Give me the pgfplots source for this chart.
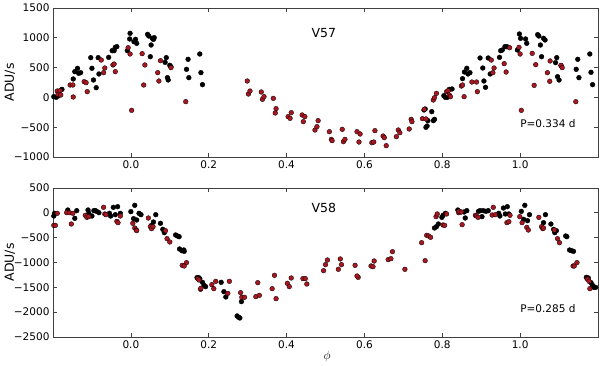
\documentclass[border=0pt]{standalone}
\usepackage{fontspec}
\setmainfont{DejaVu Sans}
\usepackage{pgfplots}
\pgfplotsset{compat=1.18}
\definecolor{dotred}{RGB}{168,22,32}

\pgfplotsset{
  lcpanel/.style={
    scale only axis, width=545pt, height=149pt,
    xmin=-0.2, xmax=1.2,
    xtick={0,0.2,0.4,0.6,0.8,1.0},
    xticklabel style={/pgf/number format/fixed,/pgf/number format/fixed zerofill,/pgf/number format/precision=1},
    /pgf/number format/assume math mode=true,
    tick label style={font=\fontsize{10.5}{12}\selectfont},
    label style={font=\fontsize{12.5}{14}\selectfont},
    tick align=inside, xtick pos=both, ytick pos=both,
    xticklabel pos=lower, yticklabel pos=left,
    major tick length=4pt,
    axis line style={black!75, line width=0.8pt},
    tick style={black!75, line width=0.7pt},
    ylabel={ADU/s},
    ylabel style={at={(axis description cs:-0.079,0.5)}, anchor=center},
    clip=false,
  },
  blk/.style={only marks, mark=*, mark size=2.4pt, mark options={draw=black, fill=black}},
  red/.style={only marks, mark=*, mark size=2.4pt, mark options={draw=black, fill=dotred, line width=0.3pt}},
}

\begin{document}
\begin{tikzpicture}
\useasboundingbox (-53pt,-29pt) rectangle (547pt,337pt);

% top panel: V57
\begin{axis}[lcpanel, at={(0pt,180pt)}, anchor=south west,
    ymin=-1000, ymax=1500,
    ytick={-1000,-500,0,500,1000,1500},
    yticklabels={−1000,−500,0,500,1000,1500}]
\addplot[blk] coordinates {
(-0.198,12) (-0.192,1) (-0.187,23) (-0.177,135) (-0.148,309) (-0.144,432) (-0.137,488)
(-0.134,404) (-0.129,415) (-0.103,667) (-0.100,488) (-0.096,292) (-0.089,163) (-0.084,667)
(-0.082,393) (-0.057,672) (-0.048,784) (-0.043,784) (-0.040,840) (-0.036,851) (-0.009,784)
(-0.003,980) (-0.002,1075) (0.008,935) (0.012,974) (0.015,907) (0.043,1058) (0.046,1030)
(0.052,879) (0.055,991) (0.058,974) (0.060,1002) (0.050,683) (0.088,588) (0.091,667)
(0.094,331) (0.096,292) (0.100,538) (0.103,516) (0.143,471) (0.147,639) (0.149,331)
(0.177,728) (0.180,415) (0.184,214)
(0.758,-502) (0.761,-480) (0.763,-390) (0.753,-211) (0.756,-195) (0.773,-239) (0.777,-390)
(0.780,-368) (0.804,29) (0.808,1) (0.813,1) (0.818,135) (0.825,141) (0.852,314) (0.857,426)
(0.863,488) (0.866,393) (0.871,415) (0.897,661) (0.904,493) (0.907,275) (0.911,169)
(0.918,661) (0.923,393) (0.947,672) (0.950,784) (0.954,795) (0.961,851) (0.966,851)
(0.993,795) (0.998,1064) (1.001,991) (1.014,980) (1.017,907) (1.045,1053) (1.048,1030)
(1.052,879) (1.060,991) (1.064,963) (1.055,683) (1.091,583) (1.096,348) (1.100,292)
(1.094,667) (1.105,532) (1.144,471) (1.148,639) (1.151,331) (1.179,728) (1.182,421) (1.186,214)
};
\addplot[red] coordinates {
(-0.189,107) (-0.187,51) (-0.182,113) (-0.180,40) (-0.156,208) (-0.149,208) (-0.148,7)
(-0.120,264) (-0.115,247) (-0.112,96) (-0.076,627) (-0.070,415) (-0.067,493) (-0.046,544)
(-0.043,560) (-0.040,432) (-0.007,834) (-0.002,728) (0.002,-217) (0.029,734) (0.033,208)
(0.036,544) (0.069,415) (0.072,275) (0.076,616) (0.103,499) (0.141,-72)
(0.299,275) (0.302,57) (0.306,107) (0.335,91) (0.338,-32) (0.342,12) (0.366,-16)
(0.373,-189) (0.371,-262) (0.404,-323) (0.409,-351) (0.412,-256)
(0.440,-295) (0.447,-323) (0.443,-407) (0.473,-547) (0.478,-491) (0.481,-390) (0.510,-575)
(0.515,-704) (0.517,-726) (0.543,-536) (0.546,-743) (0.550,-704) (0.581,-575) (0.586,-749)
(0.589,-614) (0.619,-760) (0.624,-749) (0.627,-558) (0.648,-648) (0.651,-676) (0.656,-810)
(0.682,-659) (0.687,-547) (0.691,-592) (0.715,-530) (0.720,-368) (0.722,-407) (0.749,-357)
(0.754,-200) (0.758,-362) (0.777,-44) (0.780,-5) (0.785,68) (0.811,96) (0.815,113)
(0.818,40) (0.821,12) (0.849,191) (0.852,208) (0.856,12) (0.876,258) (0.888,258)
(0.890,96) (0.926,627) (0.930,415) (0.933,493) (0.959,566) (0.964,426) (0.973,834)
(0.997,840) (1.000,728) (1.003,-217) (1.031,739) (1.036,202) (1.040,549) (1.070,415)
(1.076,270) (1.077,611) (1.105,538) (1.108,499) (1.143,-72)
};
\node[font=\fontsize{12.5}{14}\selectfont] at (axis description cs:0.497,0.832) {V57};
\node[font=\fontsize{10.5}{12}\selectfont] at (axis description cs:0.908,0.221) {P=0.334 d};
\end{axis}

% bottom panel: V58
\begin{axis}[lcpanel, at={(0pt,0pt)}, anchor=south west,
    ymin=-2500, ymax=500,
    ytick={-2500,-2000,-1500,-1000,-500,0,500},
    yticklabels={−2500,−2000,−1500,−1000,−500,0,500},
    xlabel={$\phi$},
    xlabel style={at={(axis description cs:0.503,-0.134)}, anchor=center}]
\addplot[blk] coordinates {
(-0.198,-64) (-0.196,-10) (-0.162,57) (-0.144,-111) (-0.139,44) (-0.110,57) (-0.108,-10)
(-0.100,-64) (-0.095,44) (-0.091,44) (-0.088,30) (-0.082,3) (-0.055,-10) (-0.052,-64)
(-0.045,111) (-0.040,-37) (-0.034,124) (-0.027,-10) (0.000,24) (0.007,-117) (0.010,151)
(0.015,-144) (0.021,-10) (0.026,-37) (0.053,-252) (0.058,-185) (0.064,-37) (0.076,-211)
(0.082,-332) (0.086,-399) (0.115,-446) (0.120,-466) (0.124,-480) (0.125,-728) (0.131,-762)
(0.136,-748) (0.137,-775) (0.170,-1305) (0.174,-1305) (0.177,-1325) (0.184,-1399)
(0.188,-1460) (0.192,-1486) (0.232,-1399) (0.239,-1587) (0.244,-1694) (0.273,-2077)
(0.277,-2104) (0.280,-2117) (0.284,-1788)
(0.780,-305) (0.785,-278) (0.790,-225) (0.799,-91) (0.802,-50) (0.808,-10) (0.840,57)
(0.845,17) (0.856,17) (0.859,-104) (0.863,44) (0.893,30) (0.897,44) (0.902,-77) (0.905,44)
(0.912,30) (0.918,44) (0.945,-10) (0.948,-64) (0.957,97) (0.962,-23) (0.967,124) (0.971,-23)
(1.003,30) (1.009,-131) (1.012,151) (1.019,-158) (1.024,-37) (1.060,-198) (1.065,-37)
(1.079,-225) (1.086,-332) (1.089,-399) (1.093,-359) (1.117,-466) (1.120,-480) (1.127,-748)
(1.132,-762) (1.137,-775) (1.170,-1299) (1.175,-1312) (1.182,-1406) (1.186,-1460)
(1.189,-1500) (1.194,-1500)
};
\addplot[red] coordinates {
(-0.198,-252) (-0.194,-252) (-0.189,-10) (-0.165,3) (-0.158,3) (-0.153,-225) (-0.149,-10)
(-0.117,-50) (-0.113,-91) (-0.108,-77) (-0.070,111) (-0.067,-23) (-0.064,-37) (-0.036,-171)
(-0.033,-198) (-0.027,-64) (0.005,-211) (0.010,-305) (0.014,-346) (0.015,-359) (0.045,-104)
(0.050,-278) (0.053,-319) (0.057,-278) (0.089,-359) (0.093,-520) (0.100,-587) (0.132,-1057)
(0.137,-1070) (0.143,-1003) (0.172,-1325) (0.175,-1352) (0.179,-1540) (0.180,-1520)
(0.208,-1446) (0.213,-1527) (0.218,-1379) (0.249,-1621) (0.253,-1379) (0.282,-1607)
(0.285,-1701) (0.292,-1701) (0.321,-1688) (0.326,-1406) (0.330,-1661) (0.363,-1527)
(0.369,-1258) (0.373,-1728) (0.402,-1419) (0.407,-1486) (0.412,-1312)
(0.442,-1325) (0.448,-1325) (0.452,-1433) (0.495,-1164) (0.500,-1043) (0.505,-950)
(0.533,-1137) (0.538,-929) (0.541,-1043) (0.576,-1057) (0.584,-1299) (0.581,-1272)
(0.617,-1070) (0.622,-1084) (0.625,-970) (0.661,-943) (0.668,-923) (0.672,-782)
(0.704,-1137) (0.747,-601) (0.756,-963) (0.760,-453) (0.765,-466) (0.770,-493)
(0.784,-77) (0.787,-23) (0.802,-245) (0.806,-252) (0.811,-23) (0.842,3) (0.843,30)
(0.849,17) (0.851,-238) (0.885,-50) (0.888,-64) (0.892,-91) (0.928,-44) (0.931,111)
(0.936,-37) (0.966,-198) (0.971,-178) (0.974,-50) (0.999,-77) (1.005,-198) (1.017,-292)
(1.021,-346) (1.048,-91) (1.055,-278) (1.058,-319) (1.060,-305) (1.088,-346) (1.096,-520)
(1.101,-601) (1.136,-1070) (1.139,-1070) (1.146,-1003) (1.172,-1325) (1.174,-1339)
(1.177,-1379) (1.179,-1527)
};
\node[font=\fontsize{12.5}{14}\selectfont] at (axis description cs:0.497,0.864) {V58};
\node[font=\fontsize{10.5}{12}\selectfont] at (axis description cs:0.908,0.19) {P=0.285 d};
\end{axis}
\end{tikzpicture}
\end{document}
